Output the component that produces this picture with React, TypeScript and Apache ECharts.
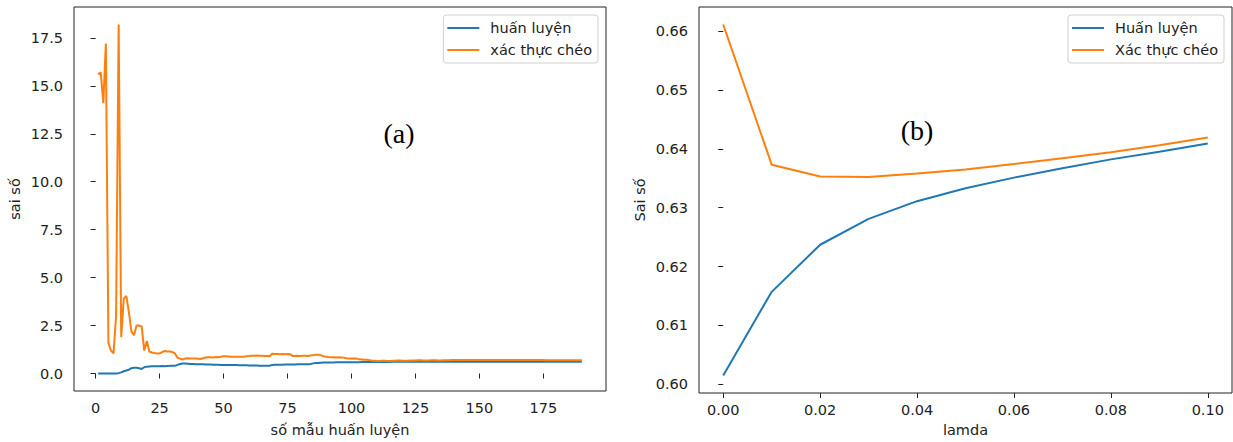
import React, { useEffect, useRef } from "react";
import * as echarts from "echarts";

// ---------- Chart (a): learning curve ----------
const seriesNamesA = ["huấn luyện", "xác thực chéo"];
const xTicksA = [0, 25, 50, 75, 100, 125, 150, 175];
const yTicksA = [0, 2.5, 5, 7.5, 10, 12.5, 15, 17.5];

// error on training set, m = 1..190
const trainA = [
  0, 0, 0, 0, 0, 0, 0, 0, 0.02, 0.06,
  0.12, 0.16, 0.2, 0.28, 0.3, 0.3, 0.28, 0.24, 0.33, 0.36,
  0.37, 0.38, 0.38, 0.38, 0.38, 0.39, 0.38, 0.39, 0.4, 0.4,
  0.4, 0.45, 0.5, 0.52, 0.52, 0.51, 0.5, 0.5, 0.49, 0.49,
  0.48, 0.48, 0.47, 0.47, 0.47, 0.46, 0.46, 0.46, 0.45, 0.45,
  0.45, 0.44, 0.44, 0.44, 0.44, 0.43, 0.43, 0.43, 0.43, 0.42,
  0.42, 0.42, 0.42, 0.41, 0.41, 0.41, 0.41, 0.41, 0.45, 0.46,
  0.46, 0.46, 0.46, 0.47, 0.47, 0.47, 0.47, 0.47, 0.48, 0.48,
  0.48, 0.48, 0.48, 0.5, 0.53, 0.55, 0.55, 0.56, 0.57, 0.57,
  0.58, 0.58, 0.58, 0.59, 0.59, 0.59, 0.59, 0.59, 0.59, 0.59,
  0.59, 0.59, 0.59, 0.6, 0.6, 0.6, 0.6, 0.6, 0.6, 0.6,
  0.6, 0.6, 0.6, 0.6, 0.6, 0.61, 0.61, 0.61, 0.61, 0.61,
  0.61, 0.61, 0.61, 0.61, 0.62, 0.62, 0.62, 0.62, 0.62, 0.62,
  0.62, 0.62, 0.62, 0.62, 0.62, 0.62, 0.62, 0.62, 0.62, 0.62,
  0.62, 0.62, 0.62, 0.62, 0.62, 0.62, 0.62, 0.62, 0.62, 0.62,
  0.62, 0.62, 0.62, 0.62, 0.62, 0.62, 0.62, 0.62, 0.62, 0.62,
  0.62, 0.62, 0.62, 0.62, 0.62, 0.62, 0.62, 0.62, 0.62, 0.62,
  0.62, 0.62, 0.62, 0.62, 0.62, 0.62, 0.62, 0.62, 0.62, 0.62,
  0.62, 0.62, 0.62, 0.62, 0.62, 0.62, 0.62, 0.62, 0.62, 0.62,
];

// error on cross-validation set, m = 1..190
const cvA = [
  15.6, 15.7, 14.1, 17.2, 1.6, 1.2, 1.05, 3.0, 18.2, 1.9,
  3.9, 4.05, 3.2, 2.2, 2.0, 2.5, 2.5, 2.45, 1.2, 1.7,
  1.15, 1.1, 1.07, 1.05, 1.05, 1.12, 1.18, 1.15, 1.15, 1.12,
  1.05, 0.82, 0.78, 0.73, 0.78, 0.8, 0.78, 0.79, 0.78, 0.77,
  0.76, 0.8, 0.84, 0.85, 0.85, 0.84, 0.86, 0.85, 0.88, 0.9,
  0.9, 0.89, 0.88, 0.87, 0.87, 0.87, 0.88, 0.88, 0.9, 0.91,
  0.93, 0.93, 0.94, 0.93, 0.93, 0.92, 0.92, 0.9, 1.03, 1.02,
  1.02, 1.01, 1.02, 1.01, 1.02, 1.01, 0.92, 0.92, 0.93, 0.92,
  0.93, 0.93, 0.92, 0.94, 0.96, 0.98, 0.98, 0.96, 0.9, 0.88,
  0.86, 0.85, 0.85, 0.84, 0.85, 0.84, 0.83, 0.8, 0.79, 0.79,
  0.78, 0.78, 0.74, 0.73, 0.72, 0.72, 0.7, 0.67, 0.67, 0.66,
  0.66, 0.67, 0.67, 0.66, 0.66, 0.67, 0.67, 0.68, 0.68, 0.67,
  0.67, 0.67, 0.68, 0.68, 0.68, 0.69, 0.69, 0.68, 0.68, 0.68,
  0.69, 0.69, 0.69, 0.68, 0.68, 0.69, 0.69, 0.69, 0.7, 0.7,
  0.7, 0.7, 0.7, 0.71, 0.71, 0.71, 0.71, 0.7, 0.7, 0.7,
  0.7, 0.7, 0.7, 0.7, 0.7, 0.7, 0.7, 0.7, 0.7, 0.7,
  0.7, 0.7, 0.7, 0.7, 0.7, 0.7, 0.7, 0.7, 0.7, 0.7,
  0.7, 0.7, 0.7, 0.7, 0.7, 0.69, 0.69, 0.69, 0.69, 0.69,
  0.69, 0.69, 0.69, 0.69, 0.69, 0.69, 0.69, 0.69, 0.69, 0.69,
];

// sample counts m = 1..190
const sampleCounts = trainA.map((_, i) => i + 1);

// ---------- Chart (b): regularisation ----------
const seriesNamesB = ["Huấn luyện", "Xác thực chéo"];
const lambdas = [0, 0.01, 0.02, 0.03, 0.04, 0.05, 0.06, 0.07, 0.08, 0.09, 0.1];
const trainB = [0.6015, 0.6157, 0.6237, 0.6281, 0.6311, 0.6333, 0.6351, 0.6367, 0.6382, 0.6395, 0.6409];
const cvB = [0.6611, 0.6373, 0.6353, 0.6352, 0.6358, 0.6365, 0.6374, 0.6384, 0.6394, 0.6406, 0.6419];
const xTicksB = [0, 0.02, 0.04, 0.06, 0.08, 0.1];
const yTicksB = [0.6, 0.61, 0.62, 0.63, 0.64, 0.65, 0.66];

const BLUE = "#1f77b4";
const ORANGE = "#ff7f0e";
const FONT = "DejaVu Sans";
const FS = 14.5;
const INK = "#222";

function padRange(vals: number[]) {
  const lo = Math.min(...vals);
  const hi = Math.max(...vals);
  const m = (hi - lo) * 0.05;
  return { min: lo - m, max: hi + m };
}

export default function App() {
  const ref = useRef<HTMLDivElement>(null);

  useEffect(() => {
    if (!ref.current) return;
    const chart = echarts.init(ref.current, undefined, { renderer: "svg" });

    const xrA = padRange(sampleCounts);
    const yrA = padRange([...trainA, ...cvA]);
    const xrB = padRange(lambdas);
    const yrB = padRange([...trainB, ...cvB]);

    const grid = (left: number, width: number) => ({
      left,
      top: 7,
      width,
      height: 387,
      show: true,
      borderColor: INK,
      borderWidth: 1,
      backgroundColor: "transparent",
      containLabel: false,
    });

    const xAxis = (gi: number, r: any, ticks: number[], dec: number, name: string, gap: number) => ({
      type: "value",
      gridIndex: gi,
      min: r.min,
      max: r.max,
      name,
      nameLocation: "middle",
      nameGap: gap,
      nameTextStyle: { fontFamily: FONT, fontSize: FS, color: INK },
      axisLine: { show: false },
      splitLine: { show: false },
      axisTick: { show: true, inside: false, length: 5, customValues: ticks, lineStyle: { color: INK, width: 1 } },
      axisLabel: {
        customValues: ticks,
        margin: 9,
        fontFamily: FONT,
        fontSize: FS,
        color: INK,
        formatter: (v: number) => v.toFixed(dec),
      },
    });

    const yAxis = (gi: number, r: any, ticks: number[], dec: number, name: string) => ({
      type: "value",
      gridIndex: gi,
      min: r.min,
      max: r.max,
      name,
      nameLocation: "middle",
      nameGap: 52,
      nameRotate: 90,
      nameTextStyle: { fontFamily: FONT, fontSize: FS, color: INK },
      axisLine: { show: false },
      splitLine: { show: false },
      axisTick: { show: true, inside: false, length: 5, customValues: ticks, lineStyle: { color: INK, width: 1 } },
      axisLabel: {
        customValues: ticks,
        margin: 11,
        fontFamily: FONT,
        fontSize: FS,
        color: INK,
        formatter: (v: number) => v.toFixed(dec),
      },
    });

    const legend = (names: string[], right: number) => ({
      data: names,
      orient: "vertical",
      right,
      top: 15,
      icon: "rect",
      itemWidth: 32,
      itemHeight: 2,
      itemGap: 6,
      padding: [5, 6, 5, 4],
      backgroundColor: "rgba(255,255,255,0.8)",
      borderColor: "#d0d0d0",
      borderWidth: 1,
      borderRadius: 3,
      selectedMode: false,
      textStyle: { fontFamily: FONT, fontSize: FS, color: INK, lineHeight: 16, padding: [0, 0, 0, 6] },
    });

    const line = (name: string, color: string, xi: number, xs: number[], ys: number[]) => ({
      type: "line",
      name,
      xAxisIndex: xi,
      yAxisIndex: xi,
      data: xs.map((x, i) => [x, ys[i]]),
      symbol: "none",
      showSymbol: false,
      color,
      lineStyle: { color, width: 2 },
      z: 3,
    });

    chart.setOption({
      animation: false,
      backgroundColor: "#ffffff",
      grid: [grid(74, 532), grid(699, 533)],
      xAxis: [
        xAxis(0, xrA, xTicksA, 0, "số mẫu huấn luyện", 31),
        xAxis(1, xrB, xTicksB, 2, "lamda", 29),
      ],
      yAxis: [yAxis(0, yrA, yTicksA, 1, "sai số"), yAxis(1, yrB, yTicksB, 2, "Sai số")],
      legend: [legend(seriesNamesA, 1233 - 598), legend(seriesNamesB, 1233 - 1224)],
      series: [
        line(seriesNamesA[0], BLUE, 0, sampleCounts, trainA),
        line(seriesNamesA[1], ORANGE, 0, sampleCounts, cvA),
        line(seriesNamesB[0], BLUE, 1, lambdas, trainB),
        line(seriesNamesB[1], ORANGE, 1, lambdas, cvB),
      ],
      graphic: [
        {
          type: "text",
          x: 399,
          y: 133,
          style: {
            text: "(a)",
            font: "28px 'Liberation Serif'",
            fill: "#000",
            align: "center",
            verticalAlign: "middle",
          },
        },
        {
          type: "text",
          x: 917,
          y: 130,
          style: {
            text: "(b)",
            font: "28px 'Liberation Serif'",
            fill: "#000",
            align: "center",
            verticalAlign: "middle",
          },
        },
      ],
    });

    return () => chart.dispose();
  }, []);

  return (
    <div
      ref={ref}
      style={{ position: "fixed", left: 0, top: 0, width: 1233, height: 442, background: "#fff" }}
    />
  );
}
